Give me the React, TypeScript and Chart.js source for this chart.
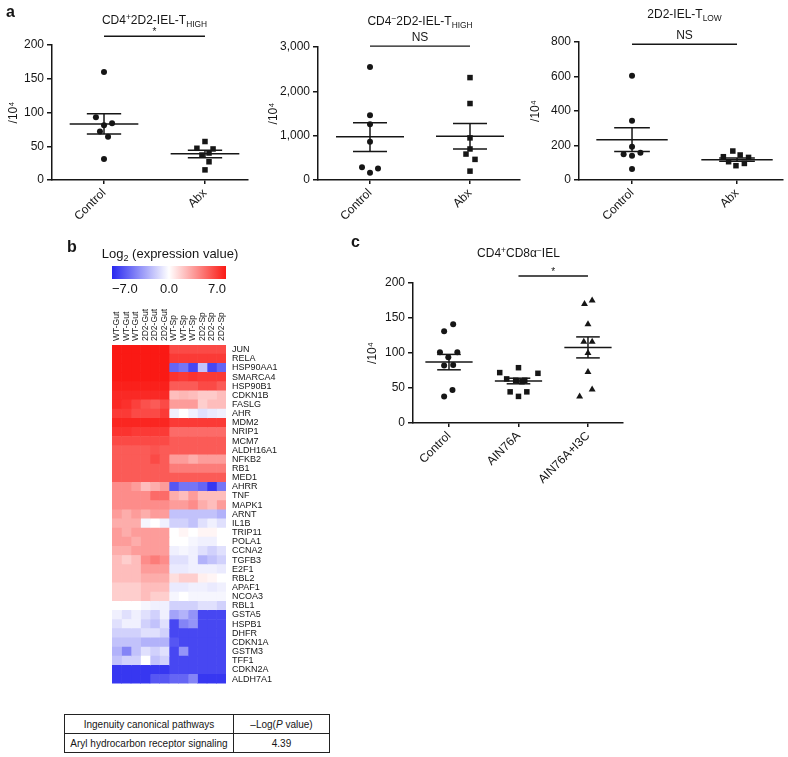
import React, { useEffect, useRef } from 'react';
import { Chart, registerables } from 'chart.js';

Chart.register(...registerables);

const FONT = "'Liberation Sans', Arial, Helvetica, sans-serif";
const INK = '#161616';

// ---------------- Panel a data ----------------
const abxCategories = ['Control', 'Abx'];

const a1Control = [160, 93, 81, 84, 72, 64, 31];
const a1ControlJitter = [0, -0.08, 0, 0.08, -0.04, 0.04, 0];
const a1Abx = [47, 57, 46, 37, 40, 27, 15];
const a1AbxJitter = [-0.08, 0, 0.08, -0.03, 0.04, 0.04, 0];
const a1Mean = [83, 39];
const a1SemLow = [68, 33];
const a1SemHigh = [98, 44];

const a2Control = [2550, 1460, 1260, 860, 285, 262, 165];
const a2ControlJitter = [0, 0, 0, 0, -0.08, 0.08, 0];
const a2Abx = [2310, 1725, 950, 700, 585, 465, 200];
const a2AbxJitter = [0, 0, 0, 0, -0.04, 0.05, 0];
const a2Mean = [975, 985];
const a2SemLow = [645, 700];
const a2SemHigh = [1290, 1275];

const a3Control = [605, 343, 193, 150, 141, 158, 64];
const a3ControlJitter = [0, 0, 0, -0.08, 0, 0.08, 0];
const a3Abx = [168, 145, 135, 131, 106, 83, 96];
const a3AbxJitter = [-0.04, 0.03, -0.13, 0.11, -0.08, -0.01, 0.07];
const a3Mean = [233, 118];
const a3SemLow = [165, 108];
const a3SemHigh = [303, 128];

// ---------------- Panel c data ----------------
const dietCategories = ['Control', 'AIN76A', 'AIN76A+I3C'];
const cControl = [141, 131, 101, 101, 94, 83, 82, 47, 38];
const cControlJitter = [0.06, -0.07, -0.13, 0.12, -0.01, 0.06, -0.07, 0.05, -0.07];
const cAin = [79, 72, 71, 63, 61, 61, 59, 44.5, 44.5, 38];
const cAinJitter = [0, -0.27, 0.28, -0.17, -0.04, 0.09, 0.05, -0.12, 0.12, 0];
const cI3c = [170, 175, 141, 116, 116, 100, 73, 38, 48];
const cI3cJitter = [-0.05, 0.06, 0, -0.06, 0.06, 0, 0, -0.12, 0.06];
const cMean = [87, 60, 108];
const cSemLow = [76, 56, 93];
const cSemHigh = [98, 64, 123];

// ---------------- Panel b data ----------------
const heatSamples = ['WT-Gut', 'WT-Gut', 'WT-Gut', '2D2-Gut', '2D2-Gut', '2D2-Gut', 'WT-Sp', 'WT-Sp', 'WT-Sp', '2D2-Sp', '2D2-Sp', '2D2-Sp'];
const heatGenes = ['JUN', 'RELA', 'HSP90AA1', 'SMARCA4', 'HSP90B1', 'CDKN1B', 'FASLG', 'AHR', 'MDM2', 'NRIP1', 'MCM7', 'ALDH16A1', 'NFKB2', 'RB1', 'MED1', 'AHRR', 'TNF', 'MAPK1', 'ARNT', 'IL1B', 'TRIP11', 'POLA1', 'CCNA2', 'TGFB3', 'E2F1', 'RBL2', 'APAF1', 'NCOA3', 'RBL1', 'GSTA5', 'HSPB1', 'DHFR', 'CDKN1A', 'GSTM3', 'TFF1', 'CDKN2A', 'ALDH7A1'];
const heatValues = [
  [7, 7, 7, 7, 7, 7, 5.5, 5.5, 5.5, 5.5, 5.5, 5.5],
  [7, 7, 7, 7, 7, 7, 6, 6, 6, 6, 6, 6],
  [7, 7, 7, 7, 7, 7, -5, -4.5, -6, -2, -6, -5],
  [7, 7, 7, 7, 7, 7, 6.2, 6, 6.2, 6, 6, 6],
  [6.8, 6.8, 6.8, 6.8, 6.8, 6.8, 5, 5, 5, 5.5, 5.5, 5],
  [6.5, 6.5, 6.5, 6.5, 6.5, 6.5, 2, 2.2, 2, 1.6, 1.6, 2],
  [6.5, 6.3, 5.8, 5.3, 5, 5.5, 3, 3, 3, 1.5, 2, 2],
  [6, 6, 5.5, 5.5, 5.5, 6, -0.5, 0, -0.5, -1, -0.7, -0.5],
  [6.6, 6.6, 6.6, 6.6, 6.6, 6.6, 6, 6, 6, 6, 6, 6],
  [6.2, 6.2, 6, 6, 6, 6, 4.5, 4.5, 4.5, 4.5, 4.5, 4.5],
  [5.5, 5.5, 5.5, 5.5, 5.5, 5.5, 5, 5, 5, 5, 5, 5],
  [5, 5, 5, 5, 5.2, 5, 5, 5, 5, 5, 5, 5],
  [5, 5, 5, 5, 5.5, 5, 3, 3, 2.5, 3, 3, 3],
  [5, 5, 5, 5, 5, 5, 4, 4, 4, 4, 4, 4],
  [5, 5, 5, 5, 5, 5, 5, 5, 5, 5, 5, 5],
  [3.5, 3.5, 3, 2, 2.5, 3, -5.5, -4.5, -4.5, -5, -6.5, -4.5],
  [3.5, 3.5, 3.5, 3.5, 4.5, 4.5, 2.5, 2, 3, 2, 2, 2],
  [3.5, 3.5, 3.5, 3.5, 3.5, 3.5, 3, 3, 3.5, 2.5, 2, 3],
  [3, 2.5, 3, 2.5, 3, 3, -2, -2, -2, -2, -2, -2.5],
  [2.5, 2.5, 2.5, -0.3, 0, -0.5, -1.5, -1.5, -2, -1, -0.5, -1],
  [3, 2.5, 3, 3, 3, 3, 0, 0.3, 0, 0.3, 0.3, 0],
  [3, 3, 2.5, 3, 3, 3, 0, 0, -0.3, -0.5, -0.5, 0],
  [2.5, 2.5, 3, 3, 3, 3, -0.5, -0.3, -0.5, -1, -1.5, -1],
  [2, 1.5, 2, 3.5, 4, 3.5, -1, -1, -0.5, -2.5, -2, -1.5],
  [2, 2, 2, 3, 3, 3, -0.7, -0.7, -0.5, -0.5, -0.5, -0.7],
  [2, 2, 2, 2.5, 2.5, 2.5, 1, 1.5, 1.5, 0.5, 0.3, 0],
  [1.5, 1.5, 1.5, 2, 2, 2, -0.7, -0.7, -0.5, -0.5, -0.7, -0.5],
  [1.5, 1.5, 1.5, 2, 1.5, 1.5, -0.3, 0, -0.3, -0.3, -0.3, -0.3],
  [0, 0, 0, -0.3, -0.5, -0.5, -1.5, -1.5, -1.5, -1, -1, -1.5],
  [-0.5, -1, -0.5, -1, -1.5, -0.5, -3, -2.5, -3.5, -6, -6, -6],
  [-1, -0.5, -0.5, -1.5, -2, -1, -6, -4, -3.5, -6, -6, -6],
  [-1.5, -1.5, -1.5, -1, -1, -1.5, -6, -6, -6, -6, -6, -6],
  [-2, -2, -2, -2.5, -2.5, -2.5, -5.5, -6, -6, -6, -6, -6],
  [-2.5, -4, -2, -1, -1.5, -1, -6, -3.5, -6, -6, -6, -6],
  [-2, -1.5, -1.5, 0, -2, -1.5, -6, -6, -6, -6, -6, -6],
  [-6.5, -6.5, -6.5, -6.5, -6.5, -6.5, -6, -6, -6, -6, -6, -6],
  [-6.5, -6.5, -6.5, -6.5, -5.5, -5.5, -5, -5, -4, -6.5, -6.5, -6.5],
];
const colorbarRange = [-7, 7];
const colorbarTicks = [-7, 0, 7];

const tableHeader = ['Ingenuity canonical pathways', '–Log(P value)'];
const tablePathways = ['Aryl hydrocarbon receptor signaling'];
const tableLogP = ['4.39'];

// ---------------- helpers ----------------
type Seg = { t: string; s?: 'sup' | 'sub'; it?: boolean };

function drawRich(ctx: CanvasRenderingContext2D, segs: Seg[], cx: number, cy: number, size: number) {
  ctx.save();
  ctx.textBaseline = 'alphabetic';
  ctx.textAlign = 'left';
  ctx.fillStyle = INK;
  const baseY = cy + size * 0.36;
  const parts = segs.map((sg) => {
    const fs = sg.s ? size * 0.7 : size;
    const font = `${sg.it ? 'italic ' : ''}${fs}px ${FONT}`;
    ctx.font = font;
    return { sg, font, w: ctx.measureText(sg.t).width };
  });
  const total = parts.reduce((a, p) => a + p.w, 0);
  let x = cx - total / 2;
  for (const p of parts) {
    ctx.font = p.font;
    const dy = p.sg.s === 'sup' ? -size * 0.4 : p.sg.s === 'sub' ? size * 0.22 : 0;
    ctx.fillText(p.sg.t, x, baseY + dy);
    x += p.w;
  }
  ctx.restore();
}

function lerp(a: number, b: number, t: number) {
  return Math.round(a + (b - a) * t);
}
const BLUE = [40, 40, 240];
const RED = [250, 25, 20];
function expressionColor(v: number) {
  const t = Math.max(-1, Math.min(1, v / colorbarRange[1]));
  const end = t < 0 ? BLUE : RED;
  const k = Math.abs(t);
  return `rgb(${lerp(255, end[0], k)},${lerp(255, end[1], k)},${lerp(255, end[2], k)})`;
}

type Group = { values: number[]; jitter: number[]; style: 'circle' | 'rect' | 'triangle' };
interface DotSpec {
  categories: string[];
  groups: Group[];
  mean: number[];
  semLow: number[];
  semHigh: number[];
  yMax: number;
  yStep: number;
  xMin: number;
  xMax: number;
  title: Seg[];
  titleY: number;
  sig: { from: number; to: number; y: number; label: string };
  box: { left: number; top: number; width: number; height: number; padL: number; yW: number; padT: number; padR: number; xH: number };
}

const markerRadius: Record<string, number> = { circle: 3, rect: 3.9, triangle: 4 };

function dotExtras(s: DotSpec) {
  return {
    id: 'dotExtras',
    afterDatasetsDraw(chart: any) {
      const { ctx, scales } = chart;
      const x = scales.x;
      const y = scales.y;
      ctx.save();
      ctx.strokeStyle = INK;
      ctx.lineWidth = 1.5;
      const seg = (x1: number, y1: number, x2: number, y2: number) => {
        ctx.beginPath();
        ctx.moveTo(x1, y1);
        ctx.lineTo(x2, y2);
        ctx.stroke();
      };
      s.mean.forEach((m, i) => {
        const ym = y.getPixelForValue(m);
        const yl = y.getPixelForValue(s.semLow[i]);
        const yh = y.getPixelForValue(s.semHigh[i]);
        seg(x.getPixelForValue(i - 0.34), ym, x.getPixelForValue(i + 0.34), ym);
        seg(x.getPixelForValue(i - 0.17), yl, x.getPixelForValue(i + 0.17), yl);
        seg(x.getPixelForValue(i - 0.17), yh, x.getPixelForValue(i + 0.17), yh);
        seg(x.getPixelForValue(i), yl, x.getPixelForValue(i), yh);
      });
      // significance bar
      const sy = y.getPixelForValue(s.sig.y);
      ctx.lineWidth = 1.3;
      seg(x.getPixelForValue(s.sig.from), sy, x.getPixelForValue(s.sig.to), sy);
      ctx.fillStyle = INK;
      ctx.textAlign = 'center';
      ctx.textBaseline = 'alphabetic';
      const isStar = s.sig.label === '*';
      ctx.font = `${isStar ? 10 : 12}px ${FONT}`;
      const mid = (x.getPixelForValue(s.sig.from) + x.getPixelForValue(s.sig.to)) / 2;
      ctx.fillText(s.sig.label, mid, sy - (isStar ? 1 : 5));
      ctx.restore();
      // title
      const tc = x.getPixelForValue((s.categories.length - 1) / 2);
      drawRich(ctx, s.title, tc, s.titleY, 12);
    },
  };
}

function dotConfig(s: DotSpec): any {
  const axisGrid = { display: true, drawOnChartArea: false, drawTicks: true, color: INK, lineWidth: 1.5 };
  return {
    type: 'scatter',
    data: {
      datasets: s.groups.map((g, gi) => ({
        data: g.values.map((v, i) => ({ x: gi + g.jitter[i], y: v })),
        pointStyle: g.style,
        pointRadius: markerRadius[g.style],
        backgroundColor: INK,
        borderColor: INK,
        borderWidth: 0,
      })),
    },
    options: {
      animation: false,
      responsive: false,
      events: [],
      layout: { padding: { left: s.box.padL, top: s.box.padT, right: s.box.padR, bottom: 0 } },
      plugins: { legend: { display: false }, tooltip: { enabled: false } },
      scales: {
        x: {
          type: 'linear',
          min: s.xMin,
          max: s.xMax,
          afterBuildTicks: (ax: any) => {
            ax.ticks = s.categories.map((_, i) => ({ value: i }));
          },
          afterFit: (ax: any) => {
            ax.height = s.box.xH;
          },
          grid: { ...axisGrid, tickLength: 4 },
          border: { display: true, color: INK, width: 1.5 },
          ticks: {
            autoSkip: false,
            minRotation: 45,
            maxRotation: 45,
            padding: 2,
            color: INK,
            font: { family: FONT, size: 12 },
            callback: (v: number) => s.categories[Math.round(v)] ?? '',
          },
        },
        y: {
          min: 0,
          max: s.yMax,
          afterFit: (ax: any) => {
            ax.width = s.box.yW;
          },
          grid: { ...axisGrid, tickLength: 5 },
          border: { display: true, color: INK, width: 1.5 },
          ticks: {
            stepSize: s.yStep,
            padding: 3,
            color: INK,
            font: { family: FONT, size: 12 },
            callback: (v: number) => Number(v).toLocaleString('en-US'),
          },
          title: { display: true, text: '/10⁴', color: INK, font: { family: FONT, size: 12 } },
        },
      },
    },
    plugins: [dotExtras(s)],
  };
}

const specA1: DotSpec = {
  categories: abxCategories,
  groups: [
    { values: a1Control, jitter: a1ControlJitter, style: 'circle' },
    { values: a1Abx, jitter: a1AbxJitter, style: 'rect' },
  ],
  mean: a1Mean, semLow: a1SemLow, semHigh: a1SemHigh,
  yMax: 200, yStep: 50, xMin: -0.515, xMax: 1.426,
  title: [{ t: 'CD4' }, { t: '+', s: 'sup' }, { t: '2D2-IEL-T' }, { t: 'HIGH', s: 'sub' }],
  titleY: 20,
  sig: { from: 0, to: 1, y: 213, label: '*' },
  box: { left: 0, top: 0, width: 262, height: 240, padL: 2, yW: 50, padT: 45, padR: 14, xH: 60 },
};

const specA2: DotSpec = {
  categories: abxCategories,
  groups: [
    { values: a2Control, jitter: a2ControlJitter, style: 'circle' },
    { values: a2Abx, jitter: a2AbxJitter, style: 'rect' },
  ],
  mean: a2Mean, semLow: a2SemLow, semHigh: a2SemHigh,
  yMax: 3000, yStep: 1000, xMin: -0.52, xMax: 1.5,
  title: [{ t: 'CD4' }, { t: '−', s: 'sup' }, { t: '2D2-IEL-T' }, { t: 'HIGH', s: 'sub' }],
  titleY: 21,
  sig: { from: 0, to: 1, y: 3020, label: 'NS' },
  box: { left: 262, top: 0, width: 262, height: 240, padL: 0, yW: 56, padT: 47, padR: 4, xH: 60 },
};

const specA3: DotSpec = {
  categories: abxCategories,
  groups: [
    { values: a3Control, jitter: a3ControlJitter, style: 'circle' },
    { values: a3Abx, jitter: a3AbxJitter, style: 'rect' },
  ],
  mean: a3Mean, semLow: a3SemLow, semHigh: a3SemHigh,
  yMax: 800, yStep: 200, xMin: -0.505, xMax: 1.438,
  title: [{ t: '2D2-IEL-T' }, { t: 'LOW', s: 'sub' }],
  titleY: 14,
  sig: { from: 0, to: 1, y: 787, label: 'NS' },
  box: { left: 524, top: 0, width: 264, height: 240, padL: 0, yW: 55, padT: 42, padR: 5, xH: 60 },
};

const specC: DotSpec = {
  categories: dietCategories,
  groups: [
    { values: cControl, jitter: cControlJitter, style: 'circle' },
    { values: cAin, jitter: cAinJitter, style: 'rect' },
    { values: cI3c, jitter: cI3cJitter, style: 'triangle' },
  ],
  mean: cMean, semLow: cSemLow, semHigh: cSemHigh,
  yMax: 200, yStep: 50, xMin: -0.518, xMax: 2.504,
  title: [{ t: 'CD4' }, { t: '+', s: 'sup' }, { t: 'CD8α' }, { t: '−', s: 'sup' }, { t: 'IEL' }],
  titleY: 13,
  sig: { from: 1, to: 2, y: 210, label: '*' },
  box: { left: 340, top: 240, width: 300, height: 260, padL: 21, yW: 52, padT: 43, padR: 17, xH: 77 },
};

const heatColumnLabels = {
  id: 'heatColumnLabels',
  afterDraw(chart: any) {
    const { ctx, scales, chartArea } = chart;
    const x = scales.x;
    ctx.save();
    ctx.fillStyle = INK;
    ctx.font = `8.5px ${FONT}`;
    ctx.textAlign = 'left';
    ctx.textBaseline = 'middle';
    heatSamples.forEach((name, i) => {
      ctx.save();
      ctx.translate(x.getPixelForValue(i + 0.5), chartArea.top - 4);
      ctx.rotate(-Math.PI / 2);
      ctx.fillText(name, 0, 0);
      ctx.restore();
    });
    ctx.restore();
  },
};

function heatConfig(): any {
  return {
    type: 'bar',
    data: {
      labels: heatGenes,
      datasets: heatSamples.map((name, ci) => ({
        label: name,
        data: heatGenes.map(() => 1),
        backgroundColor: heatValues.map((row) => expressionColor(row[ci])),
        borderWidth: 0,
        barPercentage: 1,
        categoryPercentage: 1,
      })),
    },
    options: {
      indexAxis: 'y',
      animation: false,
      responsive: false,
      events: [],
      layout: { padding: { left: 12, top: 0, right: 0, bottom: 4 } },
      plugins: { legend: { display: false }, tooltip: { enabled: false } },
      scales: {
        x: {
          type: 'linear',
          stacked: true,
          position: 'top',
          min: 0,
          max: heatSamples.length,
          afterFit: (ax: any) => {
            ax.height = 50;
          },
          grid: { display: false, drawTicks: false },
          border: { display: false },
          ticks: { display: false },
        },
        y: {
          stacked: true,
          position: 'right',
          afterFit: (ax: any) => {
            ax.width = 74;
          },
          grid: { display: false, drawTicks: false },
          border: { display: false },
          ticks: { autoSkip: false, padding: 6, color: INK, font: { family: FONT, size: 9 } },
        },
      },
    },
    plugins: [heatColumnLabels],
  };
}

function colorbarConfig(): any {
  return {
    type: 'bar',
    data: {
      labels: [''],
      datasets: [
        {
          data: [[colorbarRange[0], colorbarRange[1]]],
          backgroundColor: (context: any) => {
            const ca = context.chart.chartArea;
            if (!ca) return '#fff';
            const g = context.chart.ctx.createLinearGradient(ca.left, 0, ca.right, 0);
            for (let k = 0; k <= 20; k++) {
              const v = colorbarRange[0] + ((colorbarRange[1] - colorbarRange[0]) * k) / 20;
              g.addColorStop(k / 20, expressionColor(v));
            }
            return g;
          },
          borderWidth: 0,
          barPercentage: 1,
          categoryPercentage: 1,
        },
      ],
    },
    options: {
      indexAxis: 'y',
      animation: false,
      responsive: false,
      events: [],
      layout: { padding: { left: 12, top: 26, right: 24, bottom: 0 } },
      plugins: { legend: { display: false }, tooltip: { enabled: false } },
      scales: {
        x: {
          type: 'linear',
          min: colorbarRange[0],
          max: colorbarRange[1],
          afterBuildTicks: (ax: any) => {
            ax.ticks = colorbarTicks.map((v) => ({ value: v }));
          },
          afterFit: (ax: any) => {
            ax.height = 23;
          },
          grid: { display: false, drawTicks: false },
          border: { display: false },
          ticks: {
            align: 'inner',
            padding: 3,
            color: INK,
            font: { family: FONT, size: 13 },
            callback: (v: number) => (v < 0 ? '−' : '') + Math.abs(v).toFixed(1),
          },
        },
        y: { display: false },
      },
    },
    plugins: [
      {
        id: 'cbTitle',
        afterDraw(chart: any) {
          drawRich(chart.ctx, [{ t: 'Log' }, { t: '2', s: 'sub' }, { t: ' (expression value)' }], 70, 13, 13);
        },
      },
    ],
  };
}

function ChartBox({ left, top, width, height, make }: { left: number; top: number; width: number; height: number; make: () => any }) {
  const ref = useRef<HTMLCanvasElement | null>(null);
  useEffect(() => {
    if (!ref.current) return;
    const chart = new Chart(ref.current, make());
    return () => chart.destroy();
  }, []);
  return (
    <div style={{ position: 'absolute', left, top, width, height }}>
      <canvas ref={ref} width={width} height={height} style={{ width, height, display: 'block' }} />
    </div>
  );
}

const panelLabel: React.CSSProperties = {
  position: 'absolute',
  fontFamily: FONT,
  fontWeight: 'bold',
  fontSize: 16,
  lineHeight: 1,
  color: INK,
};

const cell: React.CSSProperties = {
  border: '1px solid #222',
  textAlign: 'center',
  height: 18,
  padding: '0 3px',
  whiteSpace: 'nowrap',
};

export default function App() {
  const dots = [specA1, specA2, specA3, specC];
  return (
    <div style={{ position: 'absolute', left: 0, top: 0, width: 788, height: 757, background: '#fff', overflow: 'hidden' }}>
      {dots.map((s, i) => (
        <ChartBox key={i} left={s.box.left} top={s.box.top} width={s.box.width} height={s.box.height} make={() => dotConfig(s)} />
      ))}
      <ChartBox left={100} top={295} width={200} height={400} make={heatConfig} />
      <ChartBox left={100} top={240} width={150} height={62} make={colorbarConfig} />
      <div style={{ ...panelLabel, left: 6, top: 4 }}>a</div>
      <div style={{ ...panelLabel, left: 67, top: 239 }}>b</div>
      <div style={{ ...panelLabel, left: 351, top: 234 }}>c</div>
      <table
        style={{
          position: 'absolute',
          left: 64,
          top: 714,
          width: 266,
          borderCollapse: 'collapse',
          fontFamily: FONT,
          fontSize: 10,
          color: INK,
        }}
      >
        <tbody>
          <tr>
            <td style={{ ...cell, width: 162 }}>{tableHeader[0]}</td>
            <td style={cell}>
              –Log(<i>P</i> value)
            </td>
          </tr>
          <tr>
            <td style={cell}>{tablePathways[0]}</td>
            <td style={cell}>{tableLogP[0]}</td>
          </tr>
        </tbody>
      </table>
    </div>
  );
}
